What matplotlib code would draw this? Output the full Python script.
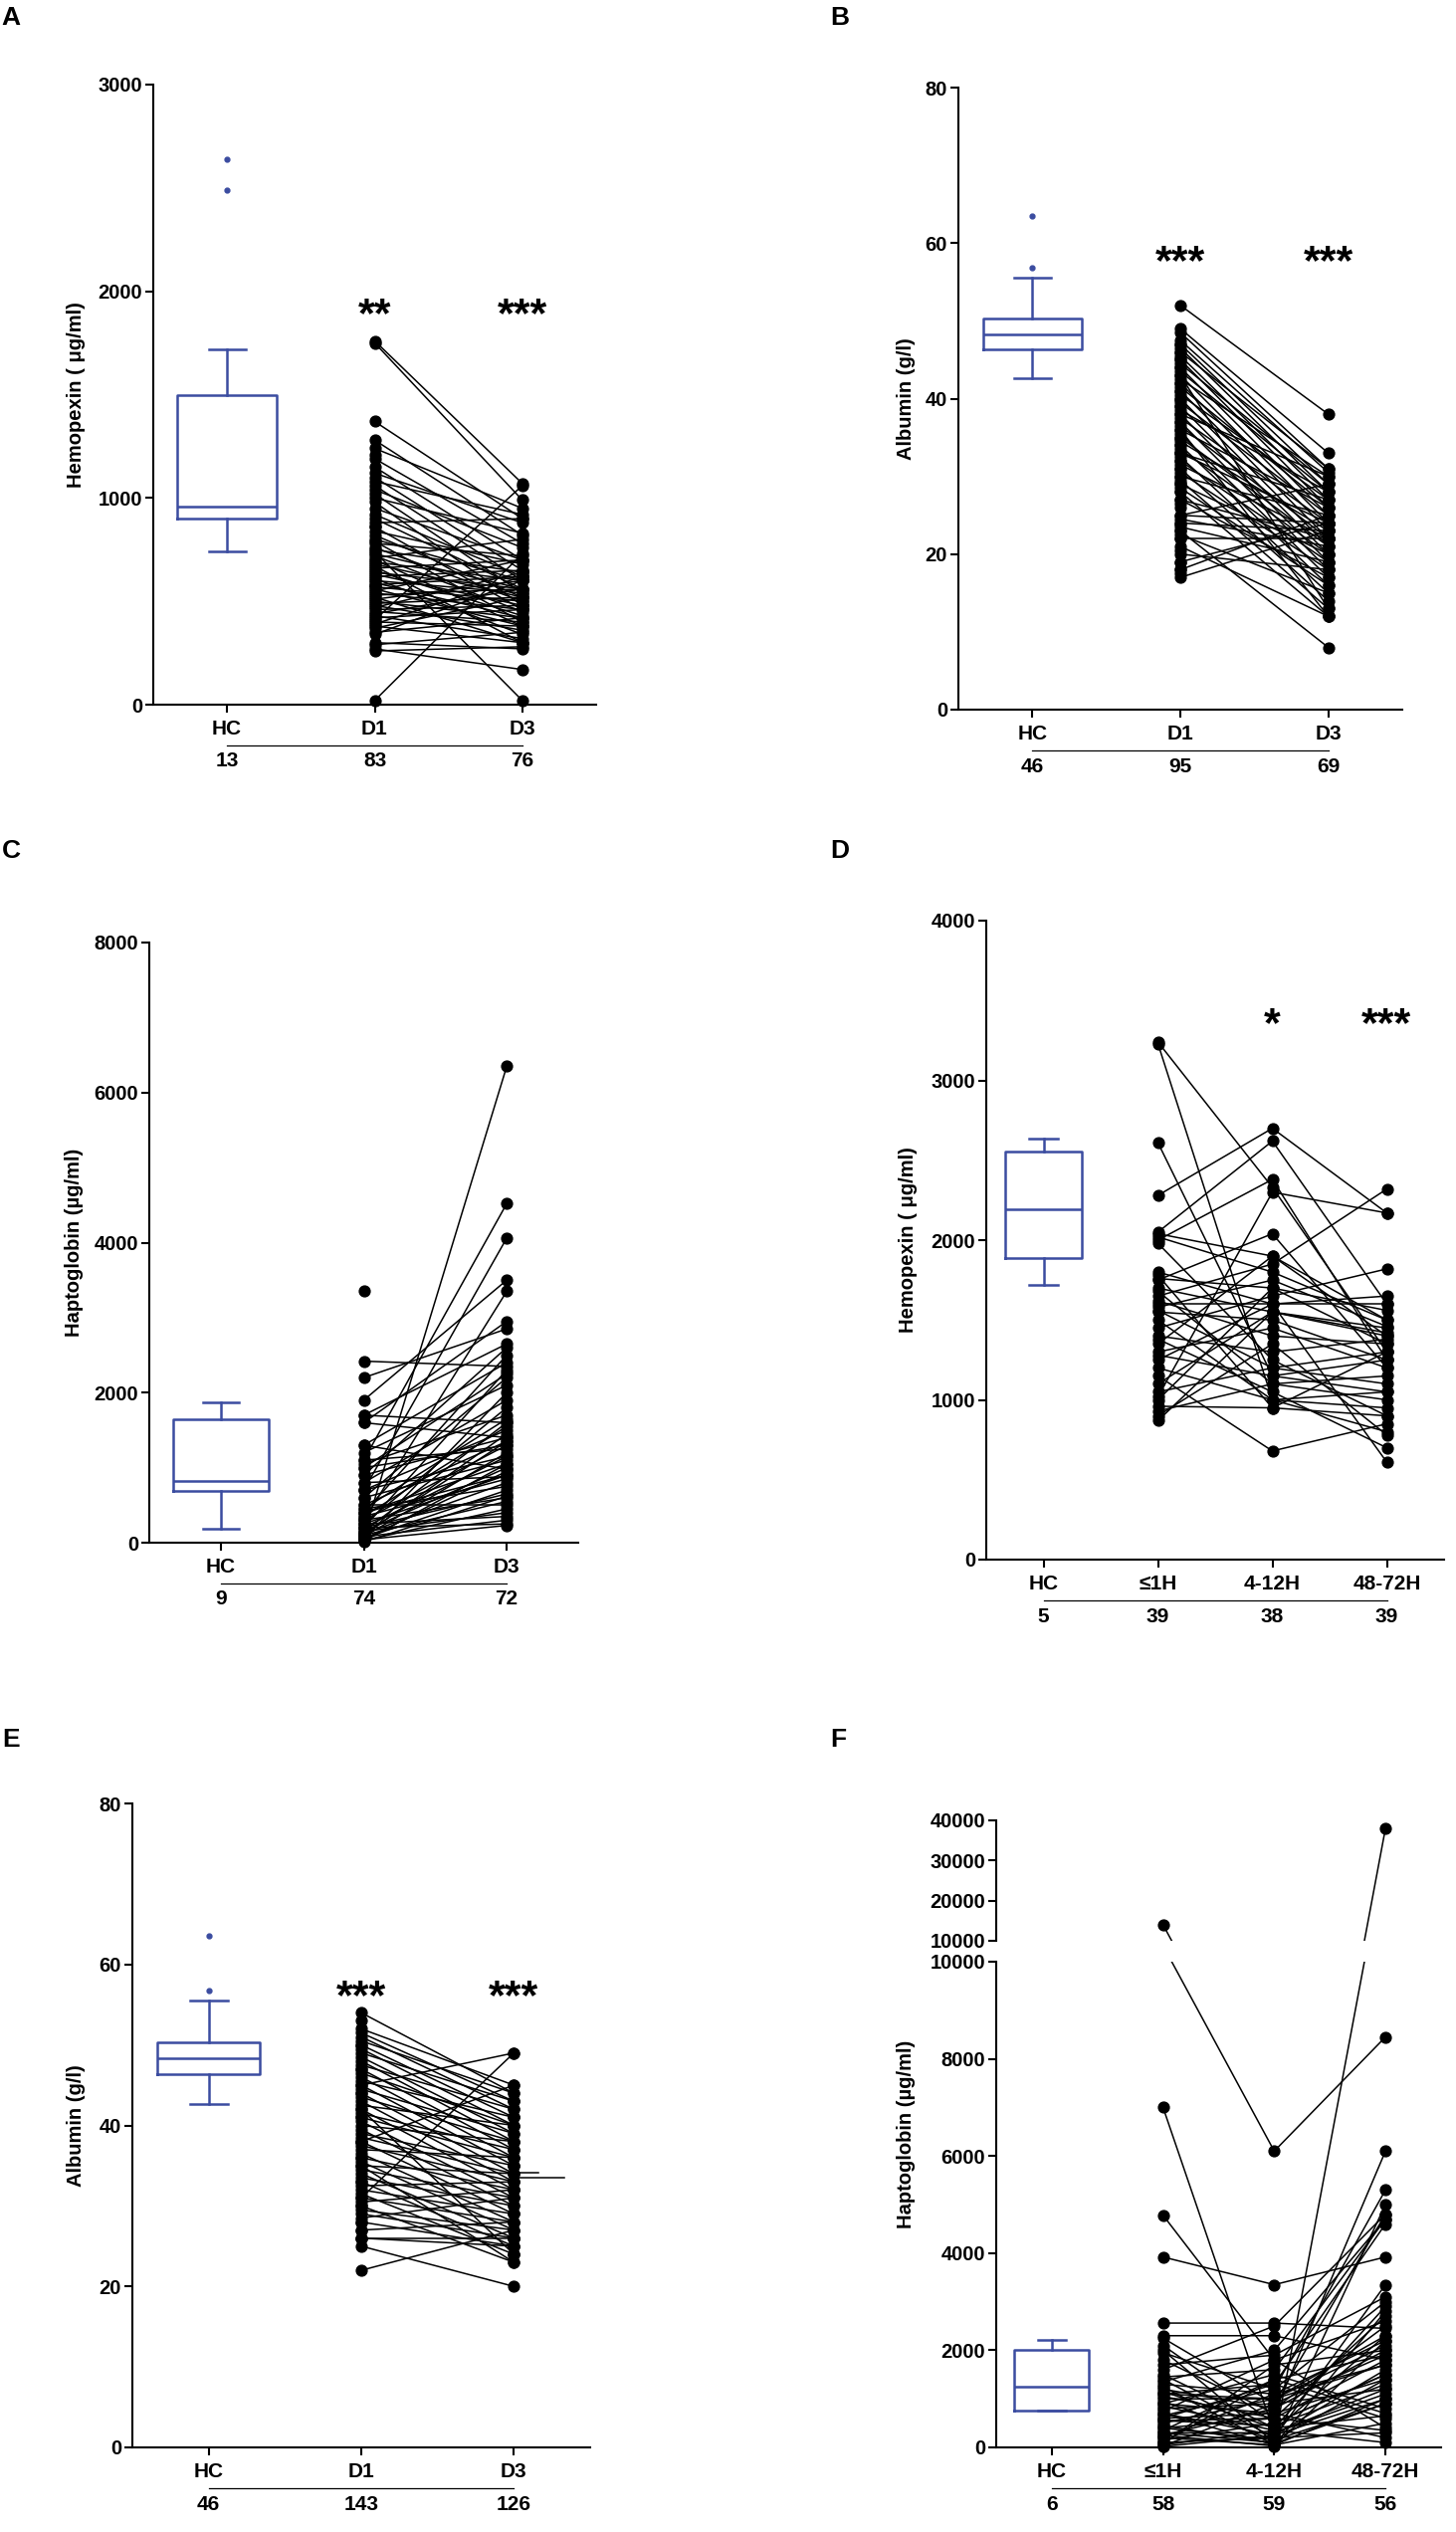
import numpy as np
import matplotlib
matplotlib.use('Agg')
import matplotlib.pyplot as plt
from matplotlib.transforms import blended_transform_factory

nan = np.nan

# ---------------- A: hemopexin (HC / D1 / D3) ----------------
a_cats = ['HC', 'D1', 'D3']
a_n = [13, 83, 76]
a_box = [740, 900, 960, 1500, 1720]          # whislo, q1, med, q3, whishi
a_out = [2490, 2640]
a_d1 = [1760, 1750, 1370, 1280, 1240, 1190, 1150, 1120, 1100, 1080, 1060, 1040, 1020, 1000, 980,
        950, 920, 900, 880, 860, 840, 820, 800, 790, 780, 760, 750, 740, 730, 720, 710, 700, 690,
        680, 670, 660, 650, 640, 630, 620, 610, 600, 590, 580, 570, 560, 550, 540, 530, 520, 510,
        500, 490, 480, 470, 460, 450, 440, 430, 420, 410, 400, 390, 380, 370, 350, 340, 300, 290,
        270, 260, 20, 1210, 860, 580]
a_d3 = [1070, 990, 900, 820, 950, 780, 700, 880, 650, 920, 600, 760, 540, 830, 480,
        700, 620, 560, 900, 460, 680, 520, 600, 400, 720, 500, 640, 20, 560, 450, 800, 380, 600,
        520, 300, 700, 430, 560, 480, 650, 340, 540, 420, 620, 500, 380, 700, 460, 560, 300, 600,
        420, 520, 360, 640, 480, 400, 560, 320, 460, 1060, 380, 620, 300, 520, 420, 600, 270, 350,
        170, 280, 730, nan, nan, nan]
a_stars = ['', '**', '***']

# ---------------- B: albumin (HC / D1 / D3) ----------------
b_cats = ['HC', 'D1', 'D3']
b_n = [46, 95, 69]
b_box = [42.6, 46.4, 48.3, 50.3, 55.5]
b_out = [56.8, 63.5]
b_d1 = [52, 49, 48.5, 47.5, 47, 46.5, 46, 45.5, 45, 44.5, 44, 43.5, 43, 42.5, 42, 41.5, 41, 40.5,
        40, 39.5, 39, 38.5, 38, 37.5, 37, 36.5, 36, 35.5, 35, 34.5, 34, 33.5, 33, 32.5, 32, 31.5,
        31, 30.5, 30, 29.5, 29, 28.5, 28, 27, 27, 25, 25, 24.5, 24, 23.5, 23, 22.5, 22, 21, 20,
        19, 18, 17, 36, 43, 38, 33,
        46, 44, 41, 39, 37, 34, 31, 29, 26, 22, 19, 18, 47, 45, 42, 40, 35, 32, 28, 24, 23,
        17.5, 20.5, 26.5, 30, 33]
b_d3 = [38, 33, 31, 30.5, 29, 28, 31, 27, 26, 29, 25, 28, 24, 30, 23, 26, 22, 27,
        21, 25, 20, 28, 19, 24, 18, 22, 12, 17, 21, 23, 16, 20, 24, 15, 19, 22,
        14, 18, 25, 13, 20, 16, 12, 22, 17, 24, 29, 21, 23, 19, 8, 15, 22, 12, 18,
        24, 25, 23, 26, 13, 30, 27,
        nan, nan, nan, nan, nan, nan, nan, nan, nan, nan, nan, nan, nan, nan, nan, nan, nan, nan,
        nan, nan, nan, nan, nan, nan, nan, nan]
b_stars = ['', '***', '***']

# ---------------- C: haptoglobin (HC / D1 / D3) ----------------
c_cats = ['HC', 'D1', 'D3']
c_n = [9, 74, 72]
c_box = [183, 690, 825, 1643, 1873]
c_out = []
c_d1 = [100, 1100, 700, 1900, 300, 1600, 2200, 2420, 1700, 900, 400, 1300, 200, 1000, 600, 1200,
        50, 800, 250, 1050, 450, 150, 1600, 350, 700, 100, 900, 500, 300, 1100, 80, 200, 600, 400,
        150, 1300, 50, 250, 800, 350, 120, 450, 60, 200, 300, 100, 500, 30, 150, 250, 80, 200, 40,
        1000, 700, 400, 10, 120, 20, 1700, 3350]
c_d3 = [6350, 4520, 4060, 3500, 3350, 2950, 2850, 2350, 2650, 2600, 2500, 2400, 2300, 2250, 2200,
        2100, 2000, 1900, 1800, 1700, 1650, 1600, 1400, 1550, 1500, 1450, 1400, 1350, 1300, 1250,
        1200, 1150, 1100, 1050, 1000, 980, 950, 900, 880, 850, 800, 750, 700, 650, 600, 550, 500,
        450, 400, 350, 300, 250, 230, 1300, 1150, 900, 620, 1350, 1050, 1600, nan]
c_stars = ['', '', '']

# ---------------- D: hemopexin (HC / <=1H / 4-12H / 48-72H) ----------------
d_cats = ['HC', '≤1H', '4-12H', '48-72H']
d_n = [5, 39, 38, 39]
d_box = [1720, 1889, 2191, 2556, 2636]
d_out = []
d_t1 = [3240, 3230, 2610, 2280, 2050, 2040, 2020, 2000, 1980, 1800, 1780, 1760, 1750, 1700, 1680,
        1650, 1620, 1600, 1580, 1560, 1550, 1500, 1450, 1400, 1380, 1350, 1300, 1280, 1250, 1200,
        1150, 1100, 1050, 1020, 1000, 960, 930, 900, 870]
d_t2 = [2330, 1000, 1150, 2700, 2620, 1900, 1800, 2380, 1250, 1600, 950, 1700, 2040, 1550, 1100,
        1850, 1400, 1600, 1750, 1200, 1500, 1000, 1650, 1300, 1050, 1900, 1450, 1150, 1600, 1000,
        680, 1550, 1200, 2300, 1700, 950, 1100, 1350, 1550]
d_t3 = [1300, 800, 1050, 2170, 1600, 1400, 1500, 1250, 900, 1650, 1300, 1560, 1200, 1420, 1000,
        2320, 1350, 1600, 1460, 1100, 1250, 950, 1820, 1380, 700, 1500, 1200, 1250, 610, 1050,
        850, 1400, 1300, 2170, 1350, 900, 1150, 780, 1450]
d_stars = ['', '', '*', '***']

# ---------------- E: albumin (HC / D1 / D3) ----------------
e_cats = ['HC', 'D1', 'D3']
e_n = [46, 143, 126]
e_box = [42.6, 46.4, 48.3, 50.3, 55.5]
e_out = [56.8, 63.5]
e_d1 = [54, 52, 51.5, 51, 50.5, 50, 49.5, 49, 48.5, 48, 47.5, 47, 46.5, 46, 45.5, 45, 44.5, 44,
        43.5, 43, 42.5, 42, 41.5, 41, 40.5, 40, 39.5, 39, 38.5, 38, 37.5, 37, 36.5, 36, 35.5, 35,
        34.5, 34, 33.5, 33, 32.5, 32, 31.5, 31, 30.5, 30, 29.5, 29, 28.5, 28, 27, 26, 26, 25, 22,
        45, 42, 38, 35, 31,
        53, 50, 47, 44, 41, 38, 36, 33, 30, 28, 27, 26,
        nan, nan, nan, nan, nan, nan, nan, nan]
e_d3 = [44, 45, 43, 42, 44, 41, 40, 43, 39, 38, 42, 37, 40, 36, 41, 35, 39, 34,
        38, 33, 40, 32, 37, 36, 31, 38, 30, 35, 34, 29, 33, 36, 28, 32, 27, 34,
        31, 26, 30, 25, 33, 29, 24, 28, 32, 23, 27, 26, 31, 25, 28, 26, 25, 20, 27,
        49, 24, 45, 23, 49,
        nan, nan, nan, nan, nan, nan, nan, nan, nan, nan, nan, nan,
        43, 41, 37, 35, 32, 29, 26, 24]
e_stars = ['', '***', '***']
e_marks = [33.5, 34.1]          # short horizontal marks beside D3

# ---------------- F: haptoglobin, broken axis ----------------
f_cats = ['HC', '≤1H', '4-12H', '48-72H']
f_n = [6, 58, 59, 56]
f_box = [750, 750, 1246, 2007, 2205]
f_out = []
f_t1 = [14000, 7000, 4780, 3920, 2560, 2300, 2250, 2100, 2000, 1950, 1800, 1700, 1500, 1450, 1400,
        1300, 1250, 1200, 1100, 1050, 1000, 950, 900, 850, 800, 750, 700, 650, 600, 550, 500, 450,
        400, 350, 300, 250, 200, 150, 100, 80, 50, 30, 1600, 1350, 600, 300, 1150, 700, 200, 400,
        900, 1100, 550, 100, 20, 250]
f_t2 = [6100, 300, 1800, 3350, 2560, 2300, 900, 500, 100, 1200, 700, 1900, 400, 1600, 200,
        1100, 50, 800, 1300, 600, 1000, 150, 1500, 350, 900, 1800, 250, 1200, 700, 450, 1000, 80,
        600, 1400, 300, 800, 50, 500, 200, 1700, 350, 900, 2500, 2000, 1300, 100, 400, 50, 1100, 150,
        700, 1000, 600, 1400, 250, 30]
f_t3 = [8450, 1200, 2600, 3920, 2450, 1800, 4800, 1500, 38000, 5300, 6100, 3100, 2900, 4700, 3350,
        2200, 1000, 2000, 600, 2700, 1700, 1400, 800, 2300, 1900, 400, 1600, 3000, 200, 1300, 2100,
        900, 1800, 700, 1100, 2500, 500, 1500, 300, 2000, 100, 1200, 4800, 4700, 4600, 5000, 650,
        2800, 1700, 900, 1400, 2300, 350, 1900, 1000, 2200]
f_low_ticks = [0, 2000, 4000, 6000, 8000, 10000]
f_up_ticks = [10000, 20000, 30000, 40000]

# ---------------- style / layout ----------------
W, H = 1463, 2544
BLUE = '#3B4CA0'
plt.rcParams['font.family'] = ['Liberation Sans', 'DejaVu Sans']
plt.rcParams['font.weight'] = 'bold'
plt.rcParams['axes.labelweight'] = 'bold'
plt.rcParams['axes.linewidth'] = 1.5

fig = plt.figure(figsize=(W / 100, H / 100), dpi=100)


def add_axes(l, t, r, b):
    return fig.add_axes([l / W, 1 - b / H, (r - l) / W, (b - t) / H])


def style_axis(ax, ylim, yticks):
    ax.spines[['top', 'right']].set_visible(False)
    ax.set_ylim(*ylim)
    ax.set_yticks(yticks)
    ax.set_yticklabels([str(t) for t in yticks], fontweight='bold')
    ax.tick_params(axis='y', length=6, width=1.5, pad=2, labelsize=14.5)


def draw_cats(ax, ax_h, cats, ns):
    xs = np.arange(len(cats))
    ax.set_xticks(xs)
    ax.set_xticklabels(cats, fontweight='bold')
    ax.tick_params(axis='x', length=6, width=1.5, pad=5, labelsize=15)
    trans = blended_transform_factory(ax.transData, ax.transAxes)
    ax.plot([xs[0], xs[-1]], [-41 / ax_h] * 2, color='black', lw=0.9,
            transform=trans, clip_on=False)
    for x, n in zip(xs, ns):
        ax.text(x, -57 / ax_h, str(n), transform=trans, ha='center', va='center',
                fontsize=15, fontweight='bold')


def draw_box(ax, box, outliers):
    bp = dict(color=BLUE, linewidth=1.8)
    ax.bxp([dict(whislo=box[0], q1=box[1], med=box[2], q3=box[3], whishi=box[4],
                 fliers=outliers)],
           positions=[0], widths=0.67, capwidths=0.25, manage_ticks=False,
           boxprops=bp, whiskerprops=bp, capprops=bp, medianprops=bp,
           flierprops=dict(marker='o', markersize=3.5, markerfacecolor=BLUE,
                           markeredgecolor=BLUE))


def draw_paired(ax, series, keep=None):
    xs = np.arange(1, len(series) + 1)
    data = np.column_stack(series)
    for row in data:
        ax.plot(xs, row, color='black', lw=1.1, zorder=3)
    for row in data:
        m = ~np.isnan(row)
        if keep is not None:
            m &= keep(row)
        ax.plot(xs[m], row[m], 'o', color='black', ms=7.8, zorder=4, clip_on=False)


def draw_stars(ax, stars, y):
    for x, s in enumerate(stars):
        if s:
            ax.annotate(s, xy=(x, y), xytext=(0, -10), textcoords='offset points',
                        ha='center', va='center', fontsize=31, fontweight='bold')


def simple_panel(box_px, label_x, letter_xy, letter, cats, ns, box, outliers, series, ylim,
                 yticks, ylabel, stars, star_y):
    l, t, r, b = box_px
    ax = add_axes(l, t, r, b)
    ax_h = b - t
    ax.set_xlim(-0.5, len(cats) - 0.5)
    style_axis(ax, ylim, yticks)
    draw_box(ax, box, outliers)
    draw_paired(ax, series)
    draw_cats(ax, ax_h, cats, ns)
    draw_stars(ax, stars, star_y)
    fig.text(label_x / W, 1 - (t + b) / 2 / H, ylabel, rotation=90, fontsize=14.5,
             ha='center', va='center')
    fig.text(letter_xy[0] / W, 1 - letter_xy[1] / H, letter, fontsize=19,
             ha='center', va='center')
    return ax


simple_panel((154, 85, 599, 708), 77, (11, 18), 'A', a_cats, a_n, a_box, a_out, [a_d1, a_d3],
             (0, 3000), [0, 1000, 2000, 3000], 'Hemopexin ( μg/ml)', a_stars, 1950)
simple_panel((963, 88, 1409, 713), 911, (844, 18), 'B', b_cats, b_n, b_box, b_out, [b_d1, b_d3],
             (0, 80), [0, 20, 40, 60, 80], 'Albumin (g/l)', b_stars, 59.2)
simple_panel((150, 947, 581, 1550), 75, (11, 855), 'C', c_cats, c_n, c_box, c_out, [c_d1, c_d3],
             (0, 8000), [0, 2000, 4000, 6000, 8000], 'Haptoglobin (µg/ml)', c_stars, 0)
simple_panel((991, 925, 1451, 1567), 913, (844, 855), 'D', d_cats, d_n, d_box, d_out,
             [d_t1, d_t2, d_t3], (0, 4000), [0, 1000, 2000, 3000, 4000],
             'Hemopexin ( μg/ml)', d_stars, 3434)
ax_e = simple_panel((133, 1812, 593, 2459), 77, (11, 1748), 'E', e_cats, e_n, e_box, e_out,
                    [e_d1, e_d3], (0, 80), [0, 20, 40, 60, 80], 'Albumin (g/l)', e_stars, 57.6)
ax_e.plot([2, 2.33], [e_marks[0]] * 2, color='black', lw=1.1, zorder=3)
ax_e.plot([2, 2.16], [e_marks[1]] * 2, color='black', lw=1.1, zorder=3)

# ---- F: broken y axis, both parts share one piecewise scale ----
fl, fr = 1001, 1448
up_t, up_b = 1829, 1950
lo_t, lo_b = 1971, 2459
k = ((up_b - up_t) / 30000) / ((lo_b - lo_t) / 10000)


def f_fwd(y):
    y = np.asarray(y, dtype=float)
    return np.where(y <= 10000, y, 10000 + (y - 10000) * k)


def f_inv(v):
    v = np.asarray(v, dtype=float)
    return np.where(v <= 10000, v, 10000 + (v - 10000) / k)


ax_lo = add_axes(fl, lo_t, fr, lo_b)
ax_up = add_axes(fl, up_t, fr, up_b)
for ax in (ax_lo, ax_up):
    ax.set_yscale('function', functions=(f_fwd, f_inv))
    ax.set_xlim(-0.5, 3.5)
style_axis(ax_lo, (0, 10000), f_low_ticks)
style_axis(ax_up, (10000, 40000), f_up_ticks)
ax_up.spines['bottom'].set_visible(False)
ax_up.set_xticks([])
ax_up.yaxis.set_minor_locator(matplotlib.ticker.NullLocator())
ax_lo.yaxis.set_minor_locator(matplotlib.ticker.NullLocator())
draw_box(ax_lo, f_box, f_out)
draw_paired(ax_lo, [f_t1, f_t2, f_t3], keep=lambda r: r <= 10000)
draw_paired(ax_up, [f_t1, f_t2, f_t3], keep=lambda r: r > 10000)
draw_cats(ax_lo, lo_b - lo_t, f_cats, f_n)
fig.text(911 / W, 1 - 2144 / H, 'Haptoglobin (µg/ml)', rotation=90, fontsize=14.5,
         ha='center', va='center')
fig.text(842 / W, 1 - 1748 / H, 'F', fontsize=19, ha='center', va='center')

fig.savefig('out.png', dpi=100, facecolor='white')
